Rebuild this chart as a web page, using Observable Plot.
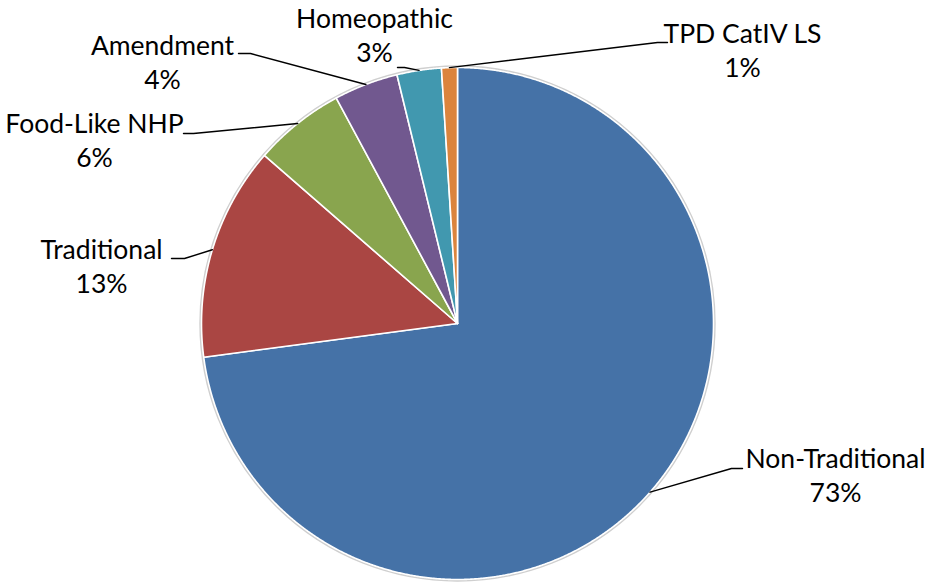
<!DOCTYPE html>
<html><head><meta charset="utf-8">
<script src="https://cdn.jsdelivr.net/npm/d3@7"></script>
<script src="https://cdn.jsdelivr.net/npm/@observablehq/plot@0.6"></script>
<style>body{margin:0;background:#fff} svg{display:block}</style>
</head><body><div id="chart"></div>
<script>
const categories = ["Non-Traditional", "Traditional", "Food-Like NHP", "Amendment", "Homeopathic", "TPD CatIV LS"];
const shares = [72.9, 13.5, 5.75, 4.05, 2.8, 1.0];
const percentLabels = ["73%", "13%", "6%", "4%", "3%", "1%"];
const sliceColors = ["#4572A7", "#AA4643", "#89A54E", "#71588F", "#4198AF", "#DB843D"];

// layout (pixels): pie centre/radius and label placement
const W = 932, H = 583, CX = 457, CY = 323, R = 256;
const labelLayout = [
  {elbow: [731, 468], end: [742, 468], text: [835, 467]},
  {elbow: [184, 258], end: [171, 258], text: [101, 258]},
  {elbow: [193, 133], end: [183, 133], text: [94, 132]},
  {elbow: [250, 53],  end: [238, 53],  text: [162, 54]},
  {elbow: [404, 67],  end: [397, 67],  text: [374, 27]},
  {elbow: [657, 42],  end: [667, 42],  text: [742, 42]}
];
const FS = 26.5, LINE = 34;
const ux = px => (px - CX) / R;
const uy = py => (CY - py) / R;

const arcs = d3.pie().sort(null).value(d => d)(shares);
const polys = [];
const leaders = [];
const names = [];
const pcts = [];
arcs.forEach((a, i) => {
  const cat = categories[i];
  const n = Math.max(2, Math.ceil((a.endAngle - a.startAngle) / 0.004));
  polys.push({cat, x: 0, y: 0});
  for (let k = 0; k <= n; k++) {
    const t = a.startAngle + (a.endAngle - a.startAngle) * k / n;
    polys.push({cat, x: Math.sin(t), y: Math.cos(t)});
  }
  polys.push({cat, x: 0, y: 0});
  const mid = (a.startAngle + a.endAngle) / 2;
  const L = labelLayout[i];
  leaders.push({cat, x: Math.sin(mid), y: Math.cos(mid)});
  leaders.push({cat, x: ux(L.elbow[0]), y: uy(L.elbow[1])});
  leaders.push({cat, x: ux(L.end[0]), y: uy(L.end[1])});
  names.push({x: ux(L.text[0]), y: uy(L.text[1]), text: cat});
  pcts.push({x: ux(L.text[0]), y: uy(L.text[1] + LINE), text: percentLabels[i]});
});

const textOpts = {x: "x", y: "y", text: "text", fontSize: FS, fontFamily: "Lato", fill: "#000",
  textAnchor: "middle", lineAnchor: "middle", dy: -0.32 * FS};

const chart = Plot.plot({
  width: W, height: H, margin: 0,
  style: {background: "#fff", fontFamily: "Lato, sans-serif"},
  x: {domain: [-1, 1], range: [CX - R, CX + R], axis: null},
  y: {domain: [-1, 1], range: [CY + R, CY - R], axis: null},
  color: {domain: categories, range: sliceColors},
  marks: [
    Plot.dot([{x: 0, y: 0}], {x: "x", y: "y", r: R + 1.2, stroke: "#cfcfcf", strokeWidth: 2, fill: "none"}),
    Plot.line(polys, {x: "x", y: "y", z: "cat", fill: "cat", stroke: "#fff", strokeWidth: 1.6, strokeLinejoin: "round", curve: "linear"}),
    Plot.line(leaders, {x: "x", y: "y", z: "cat", stroke: "#000", strokeWidth: 1.4}),
    Plot.text(names, textOpts),
    Plot.text(pcts, textOpts)
  ]
});
document.getElementById("chart").append(chart);
</script>
</body></html>
